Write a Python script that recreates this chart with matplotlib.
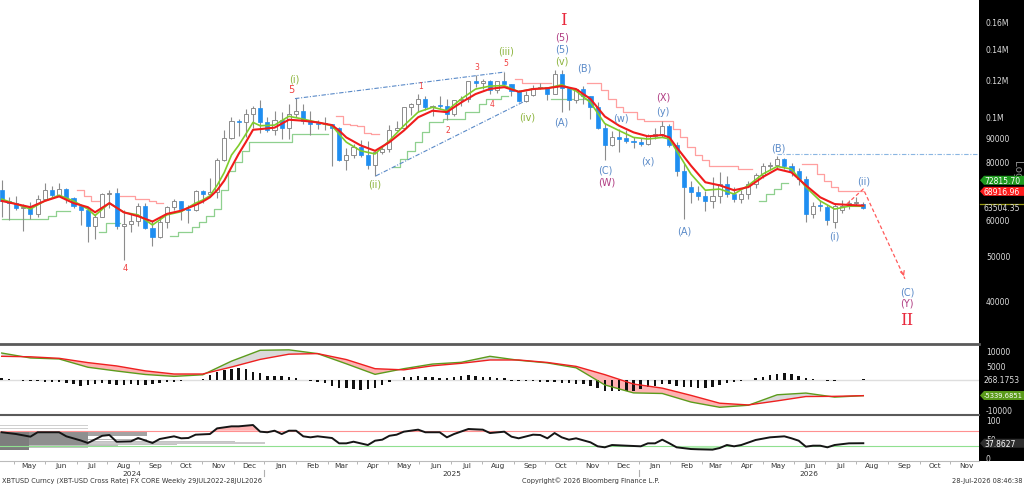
import matplotlib
matplotlib.use("Agg")
import matplotlib.pyplot as plt
import matplotlib.dates as mdates
import matplotlib.transforms as mtransforms
from matplotlib.patches import Polygon, Rectangle
from matplotlib.lines import Line2D
import numpy as np
import pandas as pd

# weekly XBTUSD candles (USD thousands), first week starts 8 Apr 2024
opens = [69.4, 65.7, 64.9, 63.4, 63.9, 61.5, 66.3, 69.3, 67.7, 69.6,
         66.6, 64.2, 62.7, 58.0, 60.8, 68.1, 68.2, 58.1, 58.7, 59.4,
         64.2, 57.3, 54.8, 59.2, 63.6, 65.6, 63.0, 62.9, 69.0, 67.9,
         68.8, 80.4, 89.8, 98.0, 97.4, 101.2, 104.5, 97.3, 93.7, 98.3,
         94.5, 101.3, 102.6, 97.7, 96.5, 96.1, 96.2, 94.3, 80.7, 82.6,
         86.1, 82.4, 78.4, 83.7, 85.1, 93.7, 94.3, 104.6, 106.5, 109.0,
         104.6, 105.6, 105.5, 101.0, 108.4, 109.2, 119.1, 117.9, 119.4, 114.2,
         119.3, 117.4, 113.5, 108.2, 111.2, 115.3, 115.7, 112.1, 123.5, 115.3,
         108.6, 114.5, 110.5, 104.7, 94.5, 86.8, 90.4, 89.8, 88.4, 88.0,
         87.4, 90.8, 91.5, 95.3, 86.6, 76.4, 70.3, 68.6, 67.3, 65.8,
         67.4, 71.5, 68.0, 66.3, 68.0, 71.5, 74.6, 78.0, 78.6, 81.0,
         78.3, 76.4, 73.3, 61.6, 64.3, 63.6, 59.2, 62.8, 64.2, 65.0,
         64.8]
highs = [72.8, 66.9, 67.2, 64.7, 65.5, 67.7, 71.9, 70.6, 71.9, 70.2,
         67.0, 64.5, 63.8, 61.4, 68.4, 69.4, 70.0, 62.7, 61.8, 65.0,
         64.9, 59.8, 60.6, 64.1, 66.5, 65.6, 64.5, 69.4, 69.5, 73.6,
         81.5, 93.4, 99.6, 98.9, 104.0, 105.2, 108.3, 99.9, 102.7, 102.5,
         106.3, 109.6, 106.4, 102.6, 98.5, 99.5, 96.5, 95.0, 85.3, 87.4,
         88.8, 88.5, 84.2, 86.5, 95.8, 97.9, 104.9, 107.1, 111.9, 110.7,
         106.0, 110.6, 108.9, 108.5, 110.5, 119.5, 123.2, 120.2, 119.8, 119.3,
         124.5, 117.6, 113.8, 113.3, 116.8, 117.9, 115.9, 125.7, 126.2, 115.9,
         114.5, 116.4, 110.8, 107.5, 96.6, 93.1, 94.1, 93.5, 90.5, 90.0,
         91.5, 94.5, 97.9, 96.5, 88.0, 79.5, 72.5, 70.8, 69.0, 74.0,
         75.8, 74.5, 70.5, 69.5, 72.5, 75.5, 79.5, 79.8, 82.3, 81.5,
         79.5, 77.5, 74.5, 65.5, 66.0, 64.5, 65.0, 66.0, 66.0, 66.9,
         65.5]
lows = [60.7, 59.7, 62.8, 56.6, 60.2, 60.8, 66.1, 66.7, 67.6, 65.1,
        63.4, 58.4, 53.5, 54.3, 60.6, 63.5, 57.2, 49.1, 56.2, 57.9,
        57.2, 52.6, 54.6, 57.5, 62.7, 59.8, 58.9, 62.4, 65.1, 67.5,
        66.8, 80.3, 89.4, 90.8, 90.5, 94.2, 92.2, 92.6, 91.4, 89.3,
        89.2, 99.5, 96.2, 91.2, 94.1, 93.4, 78.2, 80.0, 76.6, 81.2,
        81.6, 77.2, 74.5, 83.1, 84.0, 92.9, 93.4, 100.8, 102.0, 103.1,
        100.4, 104.2, 98.2, 100.0, 105.3, 107.5, 115.7, 114.7, 112.0, 112.6,
        116.8, 110.7, 107.3, 107.3, 110.6, 114.6, 108.6, 111.6, 102.0, 103.5,
        106.9, 106.3, 98.9, 94.0, 80.5, 86.2, 83.8, 87.5, 85.5, 86.5,
        86.8, 89.5, 90.5, 86.0, 74.5, 60.0, 65.0, 66.0, 62.6, 63.5,
        65.0, 67.0, 65.5, 65.0, 66.5, 70.0, 73.5, 76.5, 77.0, 77.0,
        74.5, 71.0, 59.2, 60.5, 62.5, 58.2, 57.4, 62.0, 63.0, 64.0,
        63.0]
closes = [65.7, 64.9, 63.4, 63.9, 61.5, 66.3, 69.3, 67.7, 69.6, 66.6,
          64.2, 62.7, 58.0, 60.8, 68.1, 68.2, 58.1, 58.7, 59.4, 64.2,
          57.3, 54.8, 59.2, 63.6, 65.6, 63.0, 62.9, 69.0, 67.9, 68.8,
          80.4, 89.8, 98.0, 97.4, 101.2, 104.5, 97.3, 93.7, 98.3, 94.5,
          101.3, 102.6, 97.7, 96.5, 96.1, 96.2, 94.3, 80.7, 82.6, 86.1,
          82.4, 78.4, 83.7, 85.1, 93.7, 94.3, 104.6, 106.5, 109.0, 104.6,
          105.6, 105.5, 101.0, 108.4, 109.2, 119.1, 117.9, 119.4, 114.2, 119.3,
          117.4, 113.5, 108.2, 111.2, 115.3, 115.7, 112.1, 123.5, 115.3, 108.6,
          114.5, 110.5, 104.7, 94.5, 86.8, 90.4, 89.3, 88.4, 88.0, 87.4,
          90.8, 91.5, 95.3, 86.6, 76.4, 70.3, 68.6, 67.3, 65.8, 67.4,
          71.5, 68.0, 66.3, 68.0, 71.5, 74.6, 78.3, 78.6, 81.0, 78.3,
          76.4, 73.3, 61.6, 64.2, 64.0, 59.8, 64.2, 64.2, 65.0, 65.4,
          63.50435]

# moving averages (week index -> USD thousands)
ma_weeks = [0, 2, 4, 6, 8, 10, 12, 13, 15, 17, 19, 21, 23, 25, 27, 28, 29, 30, 31, 32,
            33, 34, 35, 36, 38, 40, 42, 44, 46, 47, 48, 50, 52, 54, 56, 58, 60, 62, 64, 66,
            68, 70, 72, 74, 76, 78, 80, 82, 84, 86, 88, 90, 92, 93, 94, 96, 98, 100, 102, 104,
            106, 108, 110, 112, 114, 116, 118, 120]
ma_fast = [66.3, 64.7, 63.1, 65.7, 67.6, 65.7, 63.1, 61.1, 65.0, 62.1, 61.3, 58.3, 61.3, 62.3, 65.0, 66.0, 67.4, 71.0, 75.7, 82.5,
           86.6, 91.6, 97.1, 95.5, 95.8, 100.1, 98.7, 97.1, 95.5, 91.6, 88.0, 84.3, 83.0, 88.7, 95.5, 102.2, 104.7, 102.9, 109.1, 114.6,
           116.3, 116.6, 113.1, 114.7, 115.1, 117.1, 113.5, 107.2, 96.5, 93.2, 90.1, 89.4, 90.1, 89.4, 84.3, 75.1, 69.3, 69.7, 68.0, 71.0,
           75.1, 78.0, 77.0, 70.4, 65.7, 63.1, 64.0, 64.0]
ma_slow = [65.7, 64.7, 63.7, 65.7, 67.2, 65.0, 63.7, 62.1, 65.0, 62.1, 60.9, 59.3, 61.6, 62.6, 64.4, 65.5, 66.9, 69.3, 72.7, 77.7,
           83.0, 88.0, 93.6, 93.9, 94.6, 98.4, 97.9, 97.1, 95.8, 93.2, 90.1, 86.6, 84.3, 88.0, 93.2, 99.6, 102.9, 102.2, 107.2, 111.8,
           114.7, 115.7, 113.1, 114.6, 115.1, 116.3, 114.6, 109.1, 100.0, 95.5, 92.4, 90.6, 91.2, 90.1, 85.8, 78.3, 72.1, 71.0, 69.3, 70.4,
           74.0, 77.0, 75.7, 71.0, 66.9, 64.7, 64.4, 64.2]

# resistance / support step lines
pink_weeks = [11, 12, 13, 17, 18, 19, 20, 21, 22, 47, 48, 49, 50, 51, 52, 72, 73, 74, 75, 76,
              82, 83, 84, 85, 86, 87, 88, 89, 90, 91, 92, 93, 94, 95, 96, 97, 98, 99, 100, 101, 102, 103, 104,
              112, 113, 114, 115, 116, 117, 118, 119, 120]
pink_levels = [69.5, 67.3, 65.7, 67.3, 67.3, 66.5, 66.5, 65.7, 65.0, 100.3, 96.5, 96.0, 95.5, 92.0, 91.6,
               120.5, 118.0, 118.0, 118.0, 118.0,
               118.0, 118.0, 113.9, 109.1, 104.7, 102.2, 102.2, 98.7, 97.9, 97.9, 97.9, 97.9, 93.9, 90.1, 85.8,
               82.5, 80.5, 78.3, 78.3, 78.3, 78.3, 77.0, 77.0,
               78.9, 78.9, 75.1, 72.7, 70.4, 68.917, 68.917, 68.917, 68.917]
green_weeks = [0, 1, 2, 3, 4, 5, 6, 7, 8, 9, 14, 15, 16,
               24, 25, 26, 27, 28, 29, 30, 31, 32, 33, 34, 35, 36, 37, 38, 39, 40, 41, 42, 43, 44, 45,
               55, 56, 57, 58, 59, 60, 61, 62, 63, 64, 65, 66, 67, 68, 69, 70,
               77, 78, 79, 80, 81, 106, 107, 108, 109]
green_levels = [60.0, 60.0, 60.0, 60.0, 60.0, 60.0, 60.0, 61.1, 62.6, 62.6, 56.3, 59.0, 59.0,
                55.3, 56.3, 56.3, 57.7, 59.3, 61.1, 63.1, 69.5, 76.4, 79.7, 84.3, 88.0, 88.2, 88.2, 88.2, 88.2,
                88.2, 91.6, 91.6, 91.6, 91.6, 91.6,
                77.7, 80.9, 84.3, 88.0, 92.4, 97.1, 97.1, 98.7, 98.7, 98.7, 102.2, 102.2, 106.4, 109.1, 109.1, 110.9,
                109.1, 109.1, 109.1, 109.1, 109.1, 65.7, 68.0, 69.7, 72.0]

# MACD panel
macd_weeks = list(range(0, 121, 4))
macd_line = [9300, 7600, 7250, 4400, 3100, 1900, 1250, 1800, 6500, 10250, 10400, 9100, 5580, 1950, 3900, 5500,
             6100, 8170, 6800, 5900, 4200, -1700, -4450, -4650, -7600, -9410, -8700, -5100, -4500, -5900, -5400]
signal_line = [8170, 8000, 7480, 6000, 4850, 3150, 2070, 2070, 4470, 7100, 8900, 9100, 7050, 3900, 3500, 4900,
               5750, 6900, 6900, 6050, 4700, 1850, -1400, -2800, -5300, -8000, -8600, -7200, -5700, -5630, -5400]
macd_hist = [700, 400, 100, -200, -500, -500, -600, -600, -800, -1000,
             -1400, -1900, -1700, -1400, -1200, -1400, -1600, -1600, -1400, -1600,
             -1700, -1400, -1000, -800, -600, -500, -150, -150, 500, 1700,
             2900, 3500, 3800, 4000, 3800, 2900, 2300, 1500, 1300, 1300,
             900, 600, 150, -500, -600, -1100, -2000, -2600, -2900, -3100,
             -3300, -3100, -2600, -1700, -800, 150, 900, 1100, 1300, 1100,
             900, 600, 700, 900, 1500, 1700, 1500, 1200, 900, 600,
             600, -200, -460, -460, -460, -700, -600, -700, -1000, -1100,
             -1400, -1400, -2000, -2900, -3700, -3900, -3900, -3700, -3700, -3100,
             -2500, -2000, -1400, -1400, -2000, -2300, -2500, -2900, -2900, -2300,
             -1700, -1200, -800, -400, 150, 600, 1100, 1700, 2100, 2300,
             2100, 1500, 600, 200, 150, -300, -200, -150, -150, -150,
             268]

# RSI panel
rsi_weeks = [0, 2, 4, 5, 8, 9, 11, 12, 14, 15, 16, 18, 19, 21, 22, 24, 25, 26, 27, 29,
             30, 32, 33, 35, 36, 37, 38, 39, 40, 41, 42, 43, 44, 46, 47, 48, 49, 51, 52, 53,
             54, 55, 56, 58, 59, 61, 62, 63, 65, 67, 68, 70, 71, 72, 74, 75, 76, 77, 78, 79,
             80, 82, 83, 84, 85, 87, 89, 90, 91, 92, 93, 94, 96, 97, 99, 100, 101, 102, 103, 105,
             107, 109, 110, 111, 112, 113, 114, 115, 116, 118, 120]
rsi_vals = [66, 61.5, 54.7, 66, 66, 55.6, 45, 38.5, 57, 59, 41.8, 42.7, 51.3, 38.5, 48.7, 55.6, 50.5, 51.3, 59.8, 61.5,
            76, 81.2, 81.2, 84.6, 67.5, 66, 70, 61.5, 70, 70, 55.6, 53, 55.6, 51.3, 37.6, 37.6, 41.8, 33.3, 44.4, 47,
            57, 59.8, 67.5, 72.7, 66, 66, 53, 61.5, 74.4, 72.7, 64, 67.5, 54.7, 50.5, 59.8, 59, 50.5, 64, 53, 47,
            50.5, 40.2, 30, 27.4, 33.3, 31.6, 30, 37.6, 37.6, 47, 37.6, 27.4, 23, 22.3, 21.4, 25.6, 33.3, 30, 33.3, 46.2,
            53, 55.6, 50.5, 44.4, 29.1, 31.6, 31.6, 27.4, 33.3, 37.6, 37.9]

# grey profile bars at the left of the RSI panel
band_bottoms = [37.1, 41.3, 33.6, 56.4, 46.5, 30.6, 24.6, 81.2, 74.5, 34.6, 20.0]
band_tops = [39.9, 44.1, 36.4, 68.0, 49.3, 33.4, 27.4, 84.5, 77.7, 69.0, 69.0]
band_weeks = [36.9, 32.7, 24.6, 20.5, 20.5, 16.4, 12.3, 12.3, 12.3, 12.3, 4.1]
band_shades = ['#cacaca', '#c3c3c3', '#c3c3c3', '#a3a3a3', '#b5b5b5', '#bdbdbd', '#c3c3c3',
               '#d0d0d0', '#d0d0d0', '#8f8f8f', '#7d7d7d']

W, H = 1024, 485
AXIS_X = 979

fig = plt.figure(figsize=(W / 100, H / 100), dpi=100)


def panel(top, bottom):
    return [0, 1 - bottom / H, AXIS_X / W, (bottom - top) / H]


ax = fig.add_axes(panel(0, 343))
ax_macd = fig.add_axes(panel(345, 415), sharex=ax)
ax_rsi = fig.add_axes(panel(416, 462), sharex=ax)
fig.add_artist(Rectangle((AXIS_X / W, 1 - 462 / H), 1 - AXIS_X / W, 462 / H,
                         transform=fig.transFigure, facecolor='black', edgecolor='none', zorder=-5))

dates = mdates.date2num(pd.date_range('2024-04-08', periods=len(closes), freq='7D').to_pydatetime())
x_left, x_right = dates[0] - 1.66, dates[0] + 952.8


def wk(w):
    return dates[0] + 7 * np.asarray(w, dtype=float)


# ---- price panel ----
o, h, l, c = (np.array(v) * 1000 for v in (opens, highs, lows, closes))
up = c >= o
body_lo = np.minimum(o, c)
body_h = np.maximum(np.abs(c - o), body_lo * 0.005)
ax.vlines(dates, l, h, color='#8c8c8c', lw=0.8, zorder=2)
ax.bar(dates[up], body_h[up], bottom=body_lo[up], width=4, color='white',
       edgecolor='#8c8c8c', lw=0.7, zorder=3)
ax.bar(dates[~up], body_h[~up], bottom=body_lo[~up], width=4, color='#1f8ef1',
       edgecolor='#1f8ef1', lw=0.5, zorder=3)


def steps(weeks, levels):
    arr = np.full(len(closes), np.nan)
    arr[weeks] = levels
    return arr * 1000


ax.plot(dates, steps(pink_weeks, pink_levels), drawstyle='steps-mid', color='#ff9f9f', lw=0.9, zorder=1)
ax.plot(dates, steps(green_weeks, green_levels), drawstyle='steps-mid', color='#8fd08f', lw=0.9, zorder=1)
ax.plot(wk(ma_weeks), np.array(ma_fast) * 1000, color='#7fcc2b', lw=1.2, zorder=4)
ax.plot(wk(ma_weeks), np.array(ma_slow) * 1000, color='#f01c1c', lw=1.5, zorder=5)

# wave structure lines
ax.plot(wk([40.85, 70.0]), [109.3e3, 124.7e3], color='#5a8ac8', lw=0.8, ls=(0, (4, 1.5, 1, 1.5)), zorder=6)
ax.plot(wk([52.1, 72.9]), [74.4e3, 108.0e3], color='#5a8ac8', lw=0.8, ls=(0, (4, 1.5, 1, 1.5)), zorder=6)
ax.plot([wk(108), x_right], [82.9e3, 82.9e3], color='#8ab6e2', lw=0.8, ls=(0, (4, 1.5, 1, 1.5)), zorder=6)
ax.plot(wk([117.7, 120.0, 125.8]), [64.7e3, 69.7e3, 44.6e3], color='#ff5a5a', lw=0.9, ls=(0, (3, 2)), zorder=6)
ax.annotate('', xy=(wk(125.8), 44.6e3), xytext=(wk(125.4), 46.5e3),
            arrowprops=dict(arrowstyle='->', color='#ff5a5a', lw=0.9, mutation_scale=7))

GREEN, BLUE, PURPLE, RED = '#8cb43c', '#5a8ac8', '#b03c82', '#f04040'
labels = [
    ('(i)', 40.7, 120.5, GREEN, 7), ('5', 40.3, 114.7, RED, 7), ('4', 17.2, 47.3, RED, 6),
    ('(ii)', 52.0, 71.5, GREEN, 7), ('1', 58.3, 116.4, RED, 5.5), ('2', 62.2, 93.9, RED, 5.5),
    ('3', 66.2, 128.5, RED, 5.5), ('4', 68.3, 106.4, RED, 5.5), ('5', 70.2, 131.1, RED, 5.5),
    ('(iii)', 70.2, 138.5, GREEN, 7), ('(iv)', 73.2, 100.2, GREEN, 7), ('(v)', 78.0, 132.4, GREEN, 7),
    ('(5)', 78.0, 139.9, BLUE, 7), ('(5)', 78.1, 148.5, PURPLE, 7), ('(A)', 78.0, 97.3, BLUE, 7),
    ('(B)', 81.1, 127.3, BLUE, 7), ('(C)', 84.0, 77.0, BLUE, 7), ('(W)', 84.3, 72.2, PURPLE, 7),
    ('(w)', 86.3, 99.3, BLUE, 7), ('(x)', 90.0, 80.2, BLUE, 7), ('(y)', 92.1, 102.8, BLUE, 7),
    ('(X)', 92.1, 110.2, PURPLE, 7), ('(A)', 95.0, 56.6, BLUE, 7), ('(B)', 108.1, 85.9, BLUE, 7),
    ('(i)', 115.9, 55.2, BLUE, 7), ('(ii)', 120.1, 72.6, BLUE, 7), ('(C)', 126.1, 41.8, BLUE, 7),
    ('(Y)', 126.1, 39.6, PURPLE, 7),
]
for text, w, p, col, size in labels:
    ax.text(wk(w), p * 1000, text, color=col, fontsize=size, ha='center', va='center', zorder=7)
for text, w, p in [('I', 78.2, 161.6), ('II', 126.0, 36.5)]:
    ax.text(wk(w), p * 1000, text, color='#e8283c', fontsize=12, family='DejaVu Serif',
            ha='center', va='center', zorder=7)

ax.set_yscale('log')
ax.set_ylim(32580, 179350)
ax.set_xlim(x_left, x_right)
price_ticks = [40000, 50000, 60000, 80000, 90000, 100000, 120000, 140000, 160000]
ax.set_yticks(price_ticks)
ax.set_yticklabels(['40000', '50000', '60000', '80000', '90000', '0.1M', '0.12M', '0.14M', '0.16M'])
ax.yaxis.set_minor_locator(matplotlib.ticker.NullLocator())

# ---- MACD panel ----
xm = wk(macd_weeks)
ml, sl = np.array(macd_line), np.array(signal_line)
ax_macd.axhline(0, color='#dedede', lw=1, zorder=0)
ax_macd.fill_between(xm, ml, sl, where=ml <= sl, interpolate=True, color='#ffb2b2', lw=0, zorder=1)
ax_macd.fill_between(xm, ml, sl, where=ml >= sl, interpolate=True, color='#dadada', lw=0, zorder=1)
ax_macd.bar(dates, macd_hist, width=2.4, color='#111111', zorder=2)
ax_macd.plot(xm, ml, color='#5c9c1c', lw=1.0, zorder=3)
ax_macd.plot(xm, sl, color='#ee2020', lw=1.0, zorder=3)
ax_macd.set_ylim(-11723, 12413)
ax_macd.set_yticks([10000, 5000, -10000])
ax_macd.set_yticklabels(['10000', '5000', '-10000'])

# ---- RSI panel ----
xr = wk(rsi_weeks)
rv = np.array(rsi_vals)
for b0, b1, n, shade in zip(band_bottoms, band_tops, band_weeks, band_shades):
    ax_rsi.barh((b0 + b1) / 2, n * 7, height=b1 - b0, left=x_left, color=shade, lw=0, zorder=1)
ax_rsi.axhline(70, color='#ff9090', lw=0.8, zorder=2)
ax_rsi.axhline(30, color='#90e090', lw=0.8, zorder=2)
ax_rsi.fill_between(xr, rv, 70, where=rv >= 70, interpolate=True, color='#ffb2b2', lw=0, zorder=2)
ax_rsi.fill_between(xr, rv, 30, where=rv <= 30, interpolate=True, color='#b5efb5', lw=0, zorder=2)
ax_rsi.plot(xr, rv, color='#151515', lw=1.4, zorder=3)
ax_rsi.set_ylim(-7.7, 110.3)
ax_rsi.set_yticks([100, 50, 0])
ax_rsi.set_yticklabels(['100', '50', '0'])

# ---- shared styling ----
for a in (ax, ax_macd, ax_rsi):
    a.yaxis.tick_right()
    a.tick_params(axis='y', length=0, pad=5, labelsize=5.5, labelcolor='#dddddd')
    for s in a.spines.values():
        s.set_visible(False)
for a in (ax_macd, ax_rsi):
    a.spines['top'].set_visible(True)
    a.spines['top'].set_color('#5a5a5a')
ax_macd.spines['top'].set_linewidth(2)
ax_rsi.spines['top'].set_linewidth(1.5)
ax_rsi.spines['bottom'].set_visible(True)
ax_rsi.spines['bottom'].set_color('#bbbbbb')
ax_rsi.spines['bottom'].set_linewidth(0.8)

ax_rsi.xaxis.set_major_locator(mdates.MonthLocator(bymonthday=5))
ax_rsi.xaxis.set_major_formatter(mdates.DateFormatter('%b'))
ax_rsi.xaxis.set_minor_locator(mdates.MonthLocator(bymonthday=20))
ax.tick_params(axis='x', which='both', length=0, labelbottom=False)
ax_macd.tick_params(axis='x', which='both', length=0, labelbottom=False)
ax_rsi.tick_params(axis='x', which='major', length=0, labelsize=5.3, labelcolor='#333333', pad=0.5)
ax_rsi.tick_params(axis='x', which='minor', length=1.8, color='#aaaaaa', width=0.6)

# year labels and separators
xt = mtransforms.blended_transform_factory(ax_rsi.transData, ax_rsi.transAxes)
seps = [mdates.datestr2num('2024-12-20'), mdates.datestr2num('2025-12-20')]
for s in seps:
    ax_rsi.plot([s, s], [-0.2, -0.33], transform=xt, color='#b0b0b0', lw=0.8, clip_on=False)
for yr, a0, a1 in [('2024', x_left, seps[0]), ('2025', seps[0], seps[1]), ('2026', seps[1], x_right)]:
    ax_rsi.text((a0 + a1) / 2, -0.255, yr, transform=xt, ha='center', va='center',
                fontsize=5.3, color='#333333')

# ---- right-hand value tags (pixel coordinates) ----
PIX = mtransforms.IdentityTransform()


def ypix(axis, v):
    return axis.transData.transform((x_left, v))[1]


def tag(axis, v, text, face, size=5.5):
    y = ypix(axis, v)
    pts = [(AXIS_X + 1, y), (AXIS_X + 5, y + 4.5), (W, y + 4.5), (W, y - 4.5), (AXIS_X + 5, y - 4.5)]
    fig.add_artist(Polygon(pts, closed=True, transform=PIX, facecolor=face, edgecolor='none', zorder=5))
    fig.text(AXIS_X + 5, y, text, transform=PIX, fontsize=size, color='white', ha='left', va='center', zorder=6)


fig.text(1017, H - 170, 'Log', transform=PIX, rotation=270, fontsize=7.5, color='#8a8a8a',
         ha='center', va='center', zorder=4)
tag(ax, 72815.70, '72815.70', '#1f9a1f')
tag(ax, 68916.96, '68916.96', '#ff1c1c')
y_last = ypix(ax, 63504.35)
fig.add_artist(Line2D([AXIS_X + 1, W], [y_last + 4, y_last + 4], transform=PIX, color='#9a9a10', lw=0.9, zorder=5))
fig.text(AXIS_X + 5, y_last, '63504.35', transform=PIX, fontsize=5.5, color='#e0e0e0', va='center', zorder=6)

fig.text(AXIS_X + 5, ypix(ax_macd, 268.1753), '268.1753', transform=PIX, fontsize=5.5,
         color='#e0e0e0', va='center', zorder=6)
tag(ax_macd, -5339.6851, '-5339.6851', '#5a9a1a', size=4.9)
tag(ax_rsi, 37.8627, '37.8627', '#2e2e2e')

# footer
fig.text(2 / W, 1 - 481 / H, 'XBTUSD Curncy (XBT-USD Cross Rate) FX CORE Weekly 29JUL2022-28JUL2026',
         fontsize=4.8, color='#333333', va='center', ha='left')
fig.text(591 / W, 1 - 481 / H, 'Copyright\u00a9 2026 Bloomberg Finance L.P.',
         fontsize=4.8, color='#333333', va='center', ha='center')
fig.text(1022 / W, 1 - 481 / H, '28-Jul-2026 08:46:38', fontsize=4.8, color='#333333',
         va='center', ha='right')

fig.savefig('out.png', dpi=100)
